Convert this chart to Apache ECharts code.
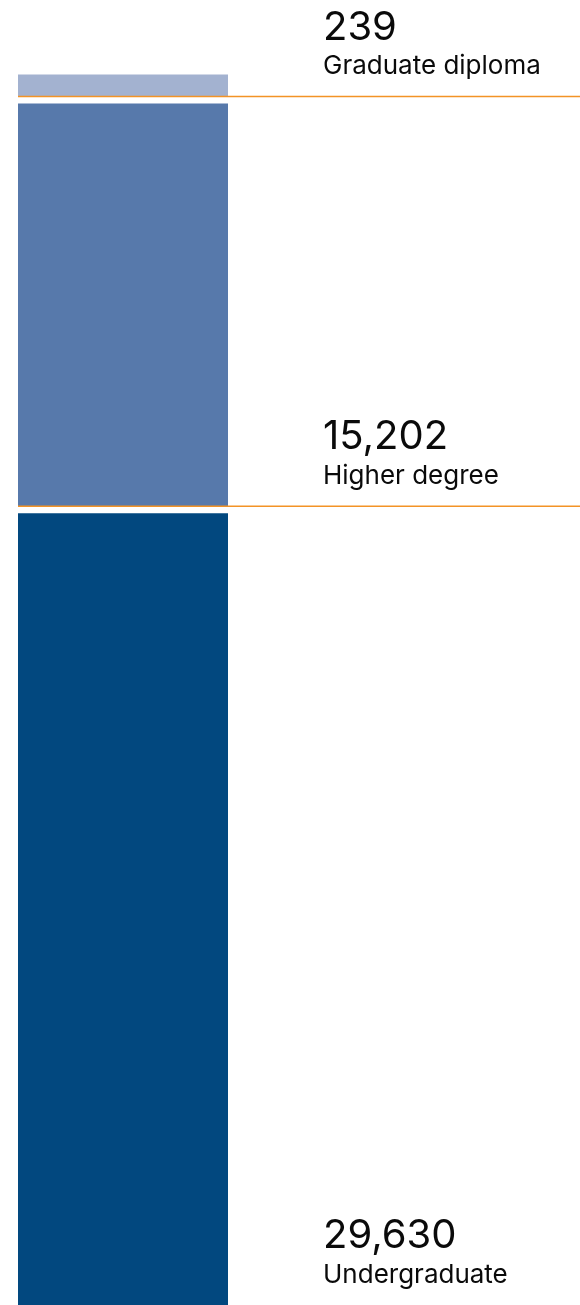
<!DOCTYPE html>
<html>
<head>
<meta charset="utf-8">
<script src="https://cdn.jsdelivr.net/npm/echarts@6/dist/echarts.min.js"></script>
<style>
  html, body { margin: 0; padding: 0; background: #ffffff; }
  #chart { width: 580px; height: 1305px; }
</style>
</head>
<body>
<div id="chart"></div>
<script>
// Enrolments by course level, stacked bottom to top
const categories = ['Undergraduate', 'Higher degree', 'Graduate diploma'];
const enrolments = [29630, 15202, 239];
const valueLabels = ['29,630', '15,202', '239'];
const segmentColors = ['#02487F', '#5779AB', '#A3B2D0'];
const dividerColor = '#F39326';
const axisMax = 46000;

// cumulative extents of each segment: [category, start, end, index]
let running = 0;
const segments = enrolments.map((v, i) => {
  const start = running;
  running += v;
  return [0, start, running, i];
});

const BAR_WIDTH = 210;
const SEGMENT_GAP = 7;
const MIN_SEGMENT = 22;
const LABEL_X = 305;

function renderSegment(params, api) {
  const i = api.value(3);
  const band = api.size([1, 0])[0];
  const pBase = api.coord([0, api.value(1)]);
  const pTop = api.coord([0, api.value(2)]);
  const left = pBase[0] - band / 2;
  const right = left + band;
  const isTop = i === segments.length - 1;

  let top = pTop[1];
  if (isTop) top = Math.min(top, pBase[1] - MIN_SEGMENT);
  else top += SEGMENT_GAP;

  const children = [{
    type: 'rect',
    shape: { x: left, y: top, width: BAR_WIDTH, height: pBase[1] - top },
    style: { fill: segmentColors[i] }
  }];

  if (api.value(1) > 0) {
    children.push({
      type: 'line',
      shape: { x1: left, y1: pBase[1], x2: right, y2: pBase[1] },
      style: { stroke: dividerColor, lineWidth: 1.6 },
      z2: 5
    });
  }

  children.push({
    type: 'text',
    style: {
      x: left + LABEL_X, y: pBase[1] - 69,
      text: valueLabels[i],
      fill: '#0a0a0a',
      fontFamily: 'Inter', fontSize: 40, fontWeight: 400,
      align: 'left', verticalAlign: 'middle'
    },
    z2: 10
  });
  children.push({
    type: 'text',
    style: {
      x: left + LABEL_X, y: pBase[1] - 30,
      text: categories[i],
      fill: '#0a0a0a',
      fontFamily: 'Inter', fontSize: 26, fontWeight: 400,
      align: 'left', verticalAlign: 'middle'
    },
    z2: 10
  });

  return { type: 'group', children };
}

const chart = echarts.init(document.getElementById('chart'), null, { renderer: 'canvas' });
chart.setOption({
  animation: false,
  backgroundColor: '#ffffff',
  grid: { left: 18, right: 0, top: 65, bottom: 0 },
  xAxis: {
    type: 'category',
    data: ['Enrolments'],
    show: false
  },
  yAxis: {
    type: 'value',
    min: 0,
    max: axisMax,
    show: false
  },
  series: [{
    type: 'custom',
    renderItem: renderSegment,
    encode: { x: 0, y: [1, 2] },
    data: segments
  }]
});
</script>
</body>
</html>
